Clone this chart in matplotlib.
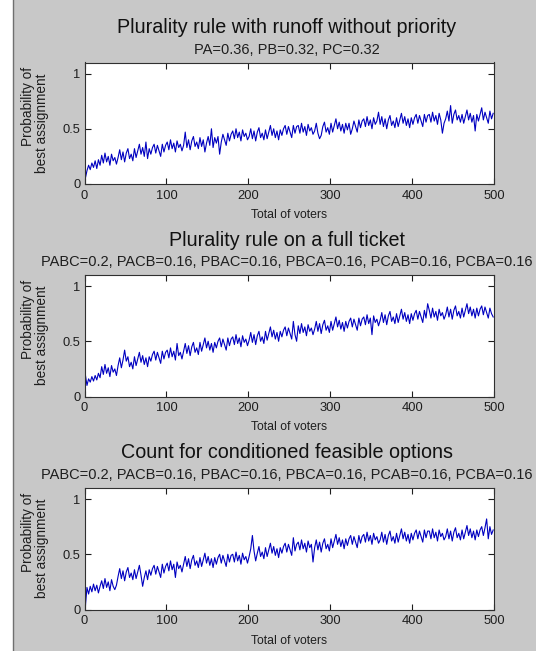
import numpy as np
import matplotlib

matplotlib.use("Agg")
import matplotlib.pyplot as plt
from matplotlib.patches import Rectangle
from matplotlib.lines import Line2D

# ── data (every 2 voters) ────────────────────────────────────────────
voters = list(range(1, 501, 2))

runoff = [
    0.05, 0.12, 0.17, 0.13, 0.19, 0.15, 0.21, 0.14, 0.22, 0.17,
    0.26, 0.19, 0.28, 0.20, 0.25, 0.17, 0.27, 0.21, 0.24, 0.18,
    0.24, 0.31, 0.22, 0.29, 0.20, 0.28, 0.32, 0.23, 0.27, 0.21,
    0.32, 0.24, 0.30, 0.36, 0.27, 0.33, 0.25, 0.38, 0.23, 0.32,
    0.27, 0.33, 0.36, 0.28, 0.35, 0.30, 0.25, 0.36, 0.29, 0.35,
    0.38, 0.31, 0.40, 0.32, 0.37, 0.29, 0.39, 0.33, 0.36, 0.30,
    0.35, 0.47, 0.33, 0.40, 0.31, 0.39, 0.43, 0.34, 0.38, 0.32,
    0.42, 0.34, 0.40, 0.29, 0.37, 0.43, 0.35, 0.50, 0.33, 0.42,
    0.37, 0.43, 0.27, 0.38, 0.45, 0.40, 0.35, 0.46, 0.39, 0.45,
    0.48, 0.41, 0.50, 0.42, 0.47, 0.39, 0.49, 0.43, 0.46, 0.40,
    0.43, 0.50, 0.41, 0.48, 0.39, 0.47, 0.51, 0.42, 0.46, 0.40,
    0.49, 0.41, 0.47, 0.53, 0.44, 0.50, 0.42, 0.48, 0.40, 0.49,
    0.44, 0.50, 0.53, 0.45, 0.52, 0.47, 0.42, 0.53, 0.46, 0.52,
    0.53, 0.46, 0.55, 0.47, 0.52, 0.44, 0.54, 0.48, 0.51, 0.45,
    0.48, 0.55, 0.46, 0.41, 0.44, 0.52, 0.56, 0.47, 0.51, 0.45,
    0.55, 0.47, 0.53, 0.59, 0.50, 0.56, 0.48, 0.54, 0.46, 0.55,
    0.49, 0.55, 0.45, 0.50, 0.57, 0.52, 0.47, 0.58, 0.51, 0.57,
    0.59, 0.52, 0.61, 0.53, 0.58, 0.50, 0.60, 0.54, 0.57, 0.65,
    0.54, 0.61, 0.52, 0.59, 0.50, 0.58, 0.62, 0.53, 0.57, 0.51,
    0.60, 0.52, 0.58, 0.64, 0.55, 0.61, 0.53, 0.59, 0.51, 0.60,
    0.54, 0.60, 0.63, 0.55, 0.62, 0.57, 0.52, 0.63, 0.56, 0.62,
    0.63, 0.56, 0.65, 0.57, 0.62, 0.54, 0.64, 0.58, 0.46, 0.55,
    0.59, 0.66, 0.57, 0.71, 0.55, 0.63, 0.67, 0.58, 0.62, 0.56,
    0.63, 0.55, 0.61, 0.67, 0.58, 0.64, 0.56, 0.62, 0.48, 0.63,
    0.57, 0.63, 0.69, 0.58, 0.65, 0.60, 0.55, 0.66, 0.59, 0.64,
]

full_ticket = [
    0.20, 0.10, 0.16, 0.13, 0.18, 0.14, 0.19, 0.15, 0.21, 0.17,
    0.27, 0.20, 0.29, 0.21, 0.26, 0.18, 0.28, 0.22, 0.25, 0.19,
    0.28, 0.35, 0.26, 0.33, 0.42, 0.32, 0.36, 0.27, 0.31, 0.25,
    0.36, 0.28, 0.34, 0.40, 0.31, 0.37, 0.29, 0.35, 0.27, 0.36,
    0.32, 0.38, 0.41, 0.33, 0.40, 0.35, 0.30, 0.41, 0.34, 0.40,
    0.42, 0.35, 0.44, 0.36, 0.41, 0.33, 0.48, 0.37, 0.40, 0.34,
    0.41, 0.48, 0.39, 0.46, 0.37, 0.45, 0.49, 0.40, 0.44, 0.38,
    0.49, 0.41, 0.47, 0.53, 0.44, 0.50, 0.42, 0.48, 0.40, 0.49,
    0.44, 0.50, 0.53, 0.45, 0.52, 0.47, 0.42, 0.53, 0.46, 0.52,
    0.54, 0.47, 0.56, 0.48, 0.53, 0.45, 0.55, 0.49, 0.52, 0.46,
    0.51, 0.58, 0.49, 0.56, 0.47, 0.55, 0.59, 0.50, 0.54, 0.48,
    0.59, 0.51, 0.57, 0.63, 0.54, 0.60, 0.52, 0.58, 0.50, 0.59,
    0.54, 0.60, 0.63, 0.55, 0.62, 0.57, 0.52, 0.68, 0.56, 0.50,
    0.64, 0.57, 0.66, 0.58, 0.63, 0.55, 0.65, 0.59, 0.62, 0.56,
    0.61, 0.68, 0.59, 0.66, 0.57, 0.65, 0.69, 0.60, 0.64, 0.58,
    0.68, 0.60, 0.66, 0.72, 0.63, 0.69, 0.61, 0.67, 0.59, 0.68,
    0.62, 0.68, 0.71, 0.63, 0.70, 0.65, 0.60, 0.71, 0.64, 0.70,
    0.72, 0.65, 0.74, 0.66, 0.71, 0.56, 0.73, 0.67, 0.70, 0.64,
    0.69, 0.76, 0.67, 0.74, 0.65, 0.73, 0.77, 0.68, 0.72, 0.66,
    0.75, 0.67, 0.73, 0.79, 0.70, 0.76, 0.68, 0.74, 0.66, 0.75,
    0.69, 0.75, 0.78, 0.70, 0.77, 0.72, 0.67, 0.78, 0.71, 0.84,
    0.78, 0.71, 0.80, 0.72, 0.77, 0.69, 0.79, 0.73, 0.76, 0.70,
    0.74, 0.81, 0.72, 0.79, 0.70, 0.78, 0.82, 0.73, 0.77, 0.71,
    0.80, 0.72, 0.78, 0.84, 0.75, 0.81, 0.73, 0.79, 0.71, 0.80,
    0.73, 0.79, 0.82, 0.74, 0.81, 0.76, 0.71, 0.80, 0.75, 0.72,
]

conditioned = [
    0.02, 0.20, 0.14, 0.21, 0.16, 0.23, 0.17, 0.22, 0.15, 0.21,
    0.26, 0.19, 0.28, 0.20, 0.25, 0.17, 0.27, 0.21, 0.18, 0.22,
    0.30, 0.37, 0.28, 0.35, 0.26, 0.34, 0.38, 0.29, 0.33, 0.27,
    0.36, 0.28, 0.34, 0.40, 0.31, 0.21, 0.29, 0.35, 0.27, 0.36,
    0.31, 0.37, 0.40, 0.32, 0.39, 0.34, 0.29, 0.41, 0.33, 0.39,
    0.42, 0.35, 0.44, 0.36, 0.41, 0.29, 0.43, 0.37, 0.40, 0.34,
    0.41, 0.48, 0.39, 0.46, 0.37, 0.45, 0.49, 0.40, 0.44, 0.38,
    0.47, 0.39, 0.45, 0.51, 0.42, 0.48, 0.40, 0.46, 0.38, 0.47,
    0.41, 0.47, 0.50, 0.42, 0.49, 0.44, 0.39, 0.50, 0.43, 0.49,
    0.50, 0.43, 0.52, 0.44, 0.49, 0.41, 0.51, 0.45, 0.48, 0.42,
    0.48, 0.55, 0.67, 0.53, 0.44, 0.51, 0.57, 0.48, 0.52, 0.46,
    0.56, 0.48, 0.54, 0.60, 0.51, 0.57, 0.49, 0.55, 0.47, 0.56,
    0.51, 0.57, 0.60, 0.52, 0.59, 0.54, 0.49, 0.65, 0.53, 0.59,
    0.61, 0.54, 0.63, 0.55, 0.60, 0.52, 0.62, 0.56, 0.59, 0.43,
    0.56, 0.63, 0.54, 0.61, 0.52, 0.60, 0.64, 0.55, 0.59, 0.53,
    0.64, 0.56, 0.62, 0.68, 0.59, 0.65, 0.57, 0.63, 0.55, 0.64,
    0.58, 0.64, 0.67, 0.59, 0.66, 0.61, 0.56, 0.67, 0.60, 0.66,
    0.68, 0.61, 0.70, 0.62, 0.67, 0.59, 0.69, 0.63, 0.66, 0.60,
    0.63, 0.70, 0.61, 0.68, 0.59, 0.67, 0.71, 0.62, 0.66, 0.60,
    0.69, 0.61, 0.67, 0.73, 0.64, 0.70, 0.62, 0.68, 0.60, 0.69,
    0.63, 0.69, 0.72, 0.64, 0.71, 0.66, 0.61, 0.72, 0.65, 0.71,
    0.71, 0.64, 0.73, 0.65, 0.70, 0.62, 0.72, 0.66, 0.69, 0.63,
    0.66, 0.73, 0.64, 0.71, 0.62, 0.70, 0.74, 0.65, 0.69, 0.63,
    0.72, 0.64, 0.70, 0.76, 0.67, 0.73, 0.65, 0.71, 0.63, 0.72,
    0.66, 0.72, 0.75, 0.67, 0.74, 0.82, 0.64, 0.75, 0.68, 0.72,
]

titles = ["Plurality rule with runoff without priority",
          "Plurality rule on a full ticket",
          "Count for conditioned feasible options"]
subtitles = ["PA=0.36, PB=0.32, PC=0.32",
             "PABC=0.2, PACB=0.16, PBAC=0.16, PBCA=0.16, PCAB=0.16, PCBA=0.16",
             "PABC=0.2, PACB=0.16, PBAC=0.16, PBCA=0.16, PCAB=0.16, PCBA=0.16"]
series = [runoff, full_ticket, conditioned]
xticks = [0, 100, 200, 300, 400, 500]
yticks = [0, 0.5, 1]
ytick_labels = ["0", "0.5", "1"]

# ── style ─────────────────────────────────────────────────────────────
W, H = 536, 651
BG = "#c8c8c8"
LINE = "#0000c0"
TXT = "#1e1e1e"
plt.rcParams["font.family"] = "Liberation Sans"


def fx(px):
    return px / W


def fy(py):
    return 1 - py / H


fig = plt.figure(figsize=(W / 100, H / 100), dpi=100, facecolor=BG)

# window edge on the left
fig.patches.append(Rectangle((0, 0), fx(13), 1, transform=fig.transFigure,
                             facecolor="white", edgecolor="none", zorder=0))
fig.lines.append(Line2D([fx(13), fx(13)], [0, 1], transform=fig.transFigure,
                        color="#707070", lw=1.0))

LEFT, RIGHT = 84.5, 494
AX_H = 121.5
tops = [62.5, 275, 488]
xc = 287

for top, ys, title, sub in zip(tops, series, titles, subtitles):
    ax = fig.add_axes([fx(LEFT), fy(top + AX_H), fx(RIGHT - LEFT), AX_H / H])
    ax.plot(voters, ys, color=LINE, lw=0.8)
    ax.set_xlim(0, 500)
    ax.set_ylim(0, 1.1)
    ax.set_xticks(xticks)
    ax.set_yticks(yticks)
    ax.set_yticklabels(ytick_labels)
    ax.tick_params(direction="in", length=4, width=0.8, top=True, right=True,
                   labelsize=9.3, pad=3, colors=TXT)
    ax.tick_params(axis="x", pad=4)
    for sp in ax.spines.values():
        sp.set_color("#303030")
        sp.set_linewidth(0.8)

    mid = top + AX_H / 2
    fig.text(fx(xc), fy(top - 35), title, ha="center", va="center",
             fontsize=14.2, color="#111111")
    fig.text(fx(xc), fy(top - 13), sub, ha="center", va="center",
             fontsize=10.5, color=TXT)
    fig.text(fx(289), fy(top + AX_H + 31), "Total of voters", ha="center",
             va="center", fontsize=8.8, color=TXT)
    fig.text(fx(28), fy(mid - 56), "Probability of", rotation=90,
             ha="center", va="top", fontsize=9.8, color=TXT)
    fig.text(fx(42), fy(mid), "best assignment", rotation=90,
             ha="center", va="center", fontsize=9.8, color=TXT)

fig.savefig("out.png", dpi=100, facecolor=BG)
